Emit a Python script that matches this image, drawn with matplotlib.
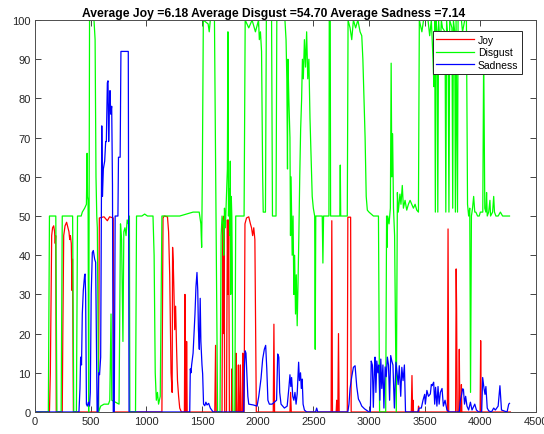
import matplotlib
matplotlib.use("Agg")
import matplotlib.pyplot as plt

plt.rcParams['font.family'] = ['Liberation Sans', 'DejaVu Sans']

title = "Average Joy =6.18 Average Disgust =54.70 Average Sadness =7.14"
labels = ["Joy", "Disgust", "Sadness"]
x_ticks = [0, 500, 1000, 1500, 2000, 2500, 3000, 3500, 4000, 4500]
y_ticks = [0, 10, 20, 30, 40, 50, 60, 70, 80, 90, 100]

# Joy (red) - breakpoints
joy_x = [0, 130, 138, 145, 150, 158, 168, 176, 182, 186, 191,
         245, 250, 258, 270, 284, 296, 305, 312, 318, 326, 333, 337, 345,
         570, 578, 620, 650, 670, 703, 708,
         1140, 1150, 1160, 1190, 1200, 1210, 1222, 1232, 1236, 1242, 1248, 1255, 1263, 1272, 1280, 1290, 1300, 1315,
         1342, 1347, 1352, 1358, 1362, 1367,
         1615, 1622, 1628, 1680, 1686, 1692, 1698, 1704, 1720, 1728, 1734, 1740, 1746, 1764, 1769, 1774,
         1800, 1805, 1810, 1822, 1827, 1832, 1840, 1845, 1850, 1862, 1866, 1870,
         1878, 1886, 1900, 1920, 1935, 1945, 1955, 1965, 1975, 1982, 1988,
         2140, 2146, 2152, 2290, 2296, 2302,
         2660, 2666, 2672, 2705, 2710, 2716, 2720, 2726, 2732,
         2805, 2810, 2835, 2840,
         3380, 3386, 3392, 3396, 3400, 3440, 3445, 3450,
         3704, 3710, 3716, 3778, 3783, 3787, 3792, 3806, 3811, 3816, 3826, 3830, 3834,
         3998, 4003, 4008, 4270]
joy_y = [0, 0, 10, 30, 45, 47, 47.5, 46, 43, 45, 0,
         0, 20, 45, 47.5, 48.4, 47, 46, 44, 45, 43, 31, 39, 0,
         0, 49.5, 49.8, 48.8, 49.8, 49.5, 0,
         0, 49.5, 50, 49.8, 46, 35, 10, 5, 42, 38, 31, 21, 27, 16, 8, 4, 1, 0,
         0, 30, 0, 0, 18, 0,
         0, 17, 0, 0, 49, 20, 50, 0, 0, 49, 30, 49, 0, 0, 11, 0,
         0, 15, 0, 0, 12, 0, 0, 12, 0, 0, 15, 0,
         0, 48, 49.5, 49.8, 48, 47, 45, 47, 44, 20, 0,
         0, 22.4, 0, 0, 5, 0,
         0, 48.8, 0, 0, 3, 0, 0, 20, 0,
         0, 49.7, 49.7, 0,
         0, 9.3, 0, 3, 0, 0, 1.5, 0,
         0, 46.7, 0, 0, 36.5, 26, 0, 0, 16, 0, 0, 7, 0,
         0, 18.2, 0, 0]

# Disgust (green)
disgust_x = [0, 120, 130, 187, 197, 235, 245, 338, 348, 372, 382, 415, 425, 446, 462, 468, 472, 477, 482,
             490, 530, 540, 548, 555, 560, 572, 590, 620, 660, 672, 683, 690, 755, 768, 778, 790, 798,
             808, 818, 828, 838, 848, 852, 903, 912, 960, 985, 1010, 1060, 1070, 1080, 1090, 1100, 1110,
             1125, 1140, 1300, 1420, 1475, 1490, 1497, 1503, 1512, 1555, 1565, 1575, 1612, 1625, 1640,
             1662, 1672, 1680, 1690, 1695, 1702, 1710, 1720, 1728, 1733, 1738, 1744, 1750, 1754, 1758,
             1763, 1768, 1772, 1777, 1795, 1803, 1878, 1888, 1920, 1950, 1980, 2008, 2015, 2025, 2035,
             2045, 2050, 2070, 2078, 2125, 2133, 2165, 2172, 2245, 2255, 2262, 2268, 2272, 2280, 2290,
             2295, 2300, 2310, 2318, 2325, 2332, 2340, 2347, 2355, 2362, 2370, 2378, 2386, 2395, 2402,
             2410, 2420, 2430, 2440, 2450, 2460, 2470, 2480, 2490, 2500, 2512, 2517, 2522, 2580, 2586,
             2592, 2640, 2643, 2652, 2655, 2738, 2742, 2746, 2805, 2812, 2830, 2845, 2860, 2880, 2900,
             2920, 2935, 2945, 2955, 2965, 2975, 2985, 3000, 3040, 3085, 3095, 3150, 3158, 3162, 3168,
             3180, 3192, 3199, 3205, 3212, 3220, 3230, 3245, 3255, 3263, 3278, 3287, 3299, 3309, 3324,
             3339, 3354, 3369, 3384, 3399, 3414, 3429, 3444, 3452, 3475, 3490, 3530, 3545, 3560, 3575,
             3583, 3590, 3596, 3602, 3612, 3618, 3625, 3640, 3650, 3660, 3683, 3690, 3697, 3710, 3718,
             3725, 3745, 3752, 3758, 3770, 3776, 3782, 3795, 3800, 3830, 3840, 3860, 3875, 3885, 3895,
             3905, 3912, 3920, 3930, 3940, 3950, 3960, 3975, 3990, 4000, 4015, 4022, 4030, 4040, 4050,
             4056, 4062, 4075, 4086, 4092, 4110, 4120, 4127, 4140, 4160, 4180, 4200, 4240, 4262]
disgust_y = [0, 0, 50, 50, 0, 0, 50, 50, 0, 0, 50, 50, 51, 52, 53, 66, 55, 54, 0,
             100, 100, 95, 60, 50, 47, 0, 1.5, 2, 2, 3, 25, 3, 2, 48, 44, 18, 46,
             47, 45, 49, 48, 50, 0, 0, 50, 50, 50.5, 50, 50, 40, 10, 3, 5, 2,
             4, 50, 50, 51, 51, 48, 42, 60, 100, 99, 97, 100, 100, 55, 0,
             0, 45, 50, 48, 40, 52, 47, 55, 62, 97, 50, 57, 45, 64, 30,
             55, 50, 38, 0, 0, 50, 50, 100, 98, 100, 97, 100, 95, 97, 92,
             60, 51, 51, 100, 100, 50, 50, 100, 100, 95, 85, 62, 90, 80, 70,
             45, 60, 40, 50, 30, 40, 25, 35, 22, 32, 45, 60, 72, 80, 90,
             85, 95, 88, 97, 85, 90, 75, 65, 55, 52, 50, 16, 50, 50, 38,
             50, 50, 100, 100, 50, 50, 63, 50, 50, 100, 98, 95, 100, 98, 100,
             97, 96, 90, 80, 70, 55, 51.5, 51, 50, 50, 0, 0, 50, 42, 50,
             48, 52, 89, 60, 71, 52, 45, 0, 56, 51, 55.6, 53, 57.8, 52, 54,
             51.5, 53, 54, 53, 52, 53, 51.5, 51, 100, 97, 100, 100, 96, 100, 90,
             83, 100, 51, 100, 97, 51, 100, 93, 100, 98, 97, 51, 100, 95, 51,
             100, 98, 52, 100, 97, 51, 100, 51, 100, 100, 97, 100, 100, 53, 50,
             52, 5, 50, 52, 55, 51, 51, 50, 50, 51, 51, 51, 92, 52, 51,
             56, 50, 51, 54, 50, 51, 55, 51, 50, 50, 51, 50, 50, 50]

# Sadness (blue)
sadness_x = [0, 395, 404, 410, 418, 425, 434, 446, 450, 455, 462, 470, 480, 490, 497, 505, 515, 524,
             536, 545, 551, 558, 566, 572, 580, 590, 596, 600, 606, 614, 626, 635, 641, 650, 656, 662,
             668, 674, 680, 689, 696, 703, 712, 720, 745, 750, 765, 772, 838, 845,
             1390, 1395, 1401, 1407, 1420, 1437, 1446, 1455, 1462, 1468, 1476, 1484, 1490, 1500, 1506,
             1514, 1525, 1535, 1545, 1560, 1575, 1600,
             1875, 1882, 1888, 1895, 1903, 1912, 1920, 1960, 1995, 2010, 2030, 2045, 2060, 2072, 2082,
             2092, 2105, 2130, 2170, 2180, 2190, 2198, 2210, 2240, 2265, 2280, 2290, 2298, 2305, 2315,
             2325, 2335, 2345, 2355, 2368, 2375, 2385, 2392, 2400, 2408, 2420, 2440,
             2520, 2530, 2540,
             2810, 2820, 2830, 2845, 2860, 2875, 2890, 2905, 2920, 2935, 2960, 3000, 3012, 3020, 3030,
             3039, 3048, 3054, 3062, 3070, 3080, 3088, 3098, 3106, 3115, 3125, 3134, 3145, 3155, 3165,
             3175, 3185, 3195, 3205, 3215, 3228, 3242, 3252, 3262, 3272, 3285, 3295, 3306, 3318, 3328,
             3440, 3450, 3470, 3485, 3500, 3506, 3520, 3534, 3551, 3560, 3566, 3581, 3590, 3598, 3610,
             3620, 3630, 3641, 3656, 3668, 3683, 3700, 3720,
             3810, 3821, 3833, 3840, 3848, 3858, 3868, 3880, 3895, 3911, 3925, 3950, 3965, 3985, 4012,
             4021, 4033, 4042, 4050, 4062, 4075, 4100, 4120, 4135, 4160, 4176, 4190, 4240, 4255, 4262]
sadness_y = [0, 0, 6, 14, 12, 25, 31, 35, 35.2, 30, 2, 1.5, 2.5, 1.5, 5, 30, 40.7, 41.2,
             39, 38.2, 20, 0, 0, 10, 9.5, 14, 50, 73, 55, 62, 64, 69, 69, 84, 84.5, 69,
             77, 82, 76, 78, 58, 0, 0, 50, 50, 65, 65, 92, 92, 0,
             0, 11, 10, 12, 15, 25, 32, 35.6, 31, 21, 16, 29, 18, 12, 9.7,
             2, 1.6, 2.5, 1.8, 2.2, 1, 0,
             0, 12, 15.6, 15, 10, 4, 2, 1.8, 1.5, 4, 8.5, 13.5, 16, 17, 11,
             3, 2, 2, 3, 14.8, 14, 5, 2, 1, 1.5, 6, 9.5, 6.5, 8.8, 4,
             3, 5, 2, 4.6, 12.7, 8, 10, 6, 8.4, 2, 0.5, 0,
             0, 1, 0,
             0, 2, 6, 9, 11.4, 11.8, 6.5, 3.3, 2.5, 1.5, 0.8, 0, 0, 13, 12,
             1.2, 11, 14, 5, 13, 10, 12, 3, 13.5, 6, 12, 1, 11.5, 9, 14,
             12, 3, 14.4, 13, 12, 1, 12.7, 10, 7, 11.8, 4, 11.4, 8, 12, 0,
             0, 1, 1, 3, 4.5, 2, 5.5, 4, 4.6, 7, 6.7, 7.6, 2, 6.3, 1.5,
             6.5, 2, 5, 6, 1.5, 3, 0.5, 0,
             0, 3, 4.6, 5.9, 5.8, 2, 4, 1.5, 0.5, 2.5, 0.5, 2, 0.5, 0, 0,
             8.8, 6, 4.5, 6.5, 1, 0.3, 0, 1, 0.5, 1.5, 6.7, 0.5, 0, 2, 2.2]

fig = plt.figure(figsize=(5.44, 4.35), dpi=100)
ax = fig.add_axes([0.0643, 0.0506, 0.921, 0.901])

ax.plot(joy_x, joy_y, color=(1, 0, 0), lw=0.9, label=labels[0])
ax.plot(disgust_x, disgust_y, color=(0, 1, 0), lw=0.9, label=labels[1])
ax.plot(sadness_x, sadness_y, color=(0, 0, 1), lw=0.9, label=labels[2])

ax.set_xlim(0, 4500)
ax.set_ylim(0, 100)
ax.set_xticks(x_ticks)
ax.set_yticks(y_ticks)
ax.tick_params(direction='in', top=True, right=True, length=4, width=0.6,
               labelsize=8, colors='#262626', pad=3)
for s in ax.spines.values():
    s.set_color('#4d4d4d')
    s.set_linewidth(0.7)

# title sits slightly left of the axes centre in the original
ax.set_title(title, fontsize=8.7, fontweight='bold', pad=3, x=0.476)

leg = ax.legend(loc='upper right', bbox_to_anchor=(0.972, 0.972), borderaxespad=0,
                fontsize=7.5, handlelength=3.6, labelspacing=0.25, fancybox=False,
                framealpha=1, edgecolor='#262626', borderpad=0.35, handletextpad=0.4)
leg.get_frame().set_linewidth(0.7)

fig.savefig("out.png", dpi=100)
